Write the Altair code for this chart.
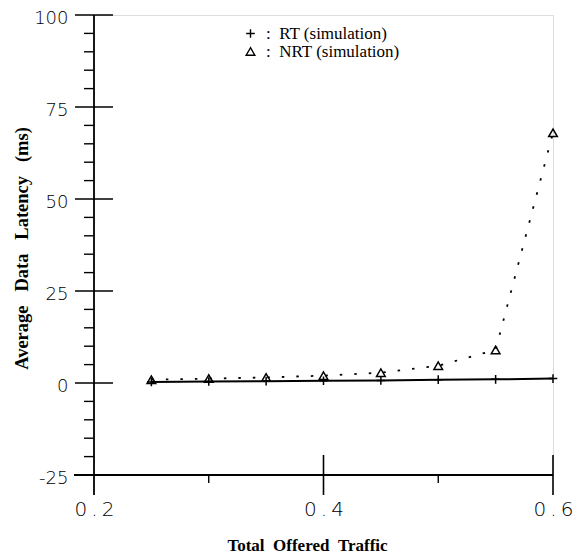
import altair as alt
import pandas as pd

# ---- data ----
traffic = [0.25, 0.30, 0.35, 0.40, 0.45, 0.50, 0.55, 0.60]
rt_latency = [0.3, 0.4, 0.5, 0.6, 0.7, 0.9, 1.0, 1.2]
nrt_latency = [0.9, 1.2, 1.5, 2.0, 2.8, 4.7, 9.0, 68.0]
series_names = ["RT (simulation)", "NRT (simulation)"]

x_major = [0.2, 0.4, 0.6]
x_minor = [0.3, 0.5]
y_major = [-25, 0, 25, 50, 75, 100]
y_minor = [v for v in range(-20, 100, 5) if v % 25 != 0]

X0, X1 = 0.2, 0.6
Y0, Y1 = -25, 100
W, H = 459, 460
px_x = W / (X1 - X0)
px_y = H / (Y1 - Y0)

# ---- axis frame segments (in data units, through the scales) ----
rows = []
rows.append(dict(x=X0, x2=X0, y=Y0 - 20 / px_y, y2=Y1, w=1.8))          # y axis line
rows.append(dict(x=X0 - 20 / px_x, x2=X1, y=Y0, y2=Y0, w=1.8))           # x axis line
for v in y_major:
    rows.append(dict(x=X0 - 19 / px_x, x2=X0 + 19 / px_x, y=v, y2=v, w=1.6))
for v in y_minor:
    rows.append(dict(x=X0 - 10 / px_x, x2=X0, y=v, y2=v, w=1.4))
for v in x_major[1:]:
    rows.append(dict(x=v, x2=v, y=Y0 - 20 / px_y, y2=Y0 + 20 / px_y, w=1.6))
for v in x_minor:
    rows.append(dict(x=v, x2=v, y=Y0 - 8 / px_y, y2=Y0, w=1.4))
frame = pd.DataFrame(rows)

df = pd.DataFrame({
    "x": traffic * 2,
    "y": rt_latency + nrt_latency,
    "series": [series_names[0]] * len(traffic) + [series_names[1]] * len(traffic),
})

xscale = alt.Scale(domain=[X0, X1], nice=False, zero=False)
yscale = alt.Scale(domain=[Y0, Y1], nice=False, zero=False)

sp2 = "\u00a0\u00a0"
sp3 = "\u00a0\u00a0\u00a0"

xaxis = alt.Axis(
    values=x_major, domain=False, ticks=False, grid=False,
    labelExpr="replace(format(datum.value, '.1f'), '.', '\u2009.\u2009')",
    labelFont="DejaVu Sans", labelFontSize=20, labelFontWeight=300,
    labelColor="black", labelPadding=24, labelFlush=False,
    title="Total" + sp2 + "Offered" + sp2 + "Traffic", titleFont="Liberation Serif",
    titleFontSize=17, titleFontWeight="bold", titleColor="black",
    titleX=213, titleY=75, titleBaseline="alphabetic", titleAlign="center",
)
yaxis = alt.Axis(
    values=y_major, domain=False, ticks=False, grid=False,
    labelExpr="'' + datum.value",
    labelFont="DejaVu Sans", labelFontSize=18, labelFontWeight=300,
    labelColor="black", labelPadding=26, labelFlush=False, labelOffset=3,
    title="Average" + sp3 + "Data" + sp3 + "Latency" + sp3 + "(ms)",
    titleFont="Liberation Serif", titleFontSize=18.5, titleFontWeight="bold",
    titleColor="black", titleX=-73, titleY=233, titleAngle=270,
    titleBaseline="middle", titleAlign="center",
)

frame_layer = alt.Chart(frame).mark_rule(color="black").encode(
    x=alt.X("x:Q", scale=xscale, axis=xaxis),
    x2="x2:Q",
    y=alt.Y("y:Q", scale=yscale, axis=yaxis),
    y2="y2:Q",
    strokeWidth=alt.StrokeWidth("w:Q", scale=None, legend=None),
)

enc_x = alt.X("x:Q", scale=xscale, axis=xaxis)
enc_y = alt.Y("y:Q", scale=yscale, axis=yaxis)

rt_line = alt.Chart(df).transform_filter(
    alt.datum.series == series_names[0]
).mark_line(color="black", strokeWidth=2).encode(x=enc_x, y=enc_y)

nrt_line = alt.Chart(df).transform_filter(
    alt.datum.series == series_names[1]
).mark_line(color="black", strokeWidth=1.8, strokeDash=[2.5, 12]).encode(x=enc_x, y=enc_y)

points = alt.Chart(df).mark_point(
    filled=False, color="black", strokeWidth=1.5, opacity=1, size=75
).encode(
    x=enc_x, y=enc_y,
    shape=alt.Shape(
        "series:N",
        scale=alt.Scale(domain=series_names, range=["M0,-1L0,1M-1,0L1,0", "triangle-up"]),
        legend=alt.Legend(
            title=None, orient="none", legendX=148, legendY=10, padding=0,
            symbolSize=75, symbolStrokeWidth=1.4, symbolStrokeColor="black",
            symbolFillColor="transparent", rowPadding=0,
            labelFont="Liberation Serif", labelFontSize=17, labelColor="black",
            labelOffset=7, labelExpr="':\u00a0\u00a0' + datum.label",
        ),
    ),
)

chart = alt.layer(frame_layer, rt_line, nrt_line, points).properties(
    width=W, height=H,
    autosize=alt.AutoSizeParams(type="none"),
    padding={"left": 86, "top": 7, "right": 20, "bottom": 78},
).configure_view(stroke="transparent", strokeWidth=0).configure(background="white")

chart.save("out.html", embed_options={"renderer": "svg", "actions": False})
